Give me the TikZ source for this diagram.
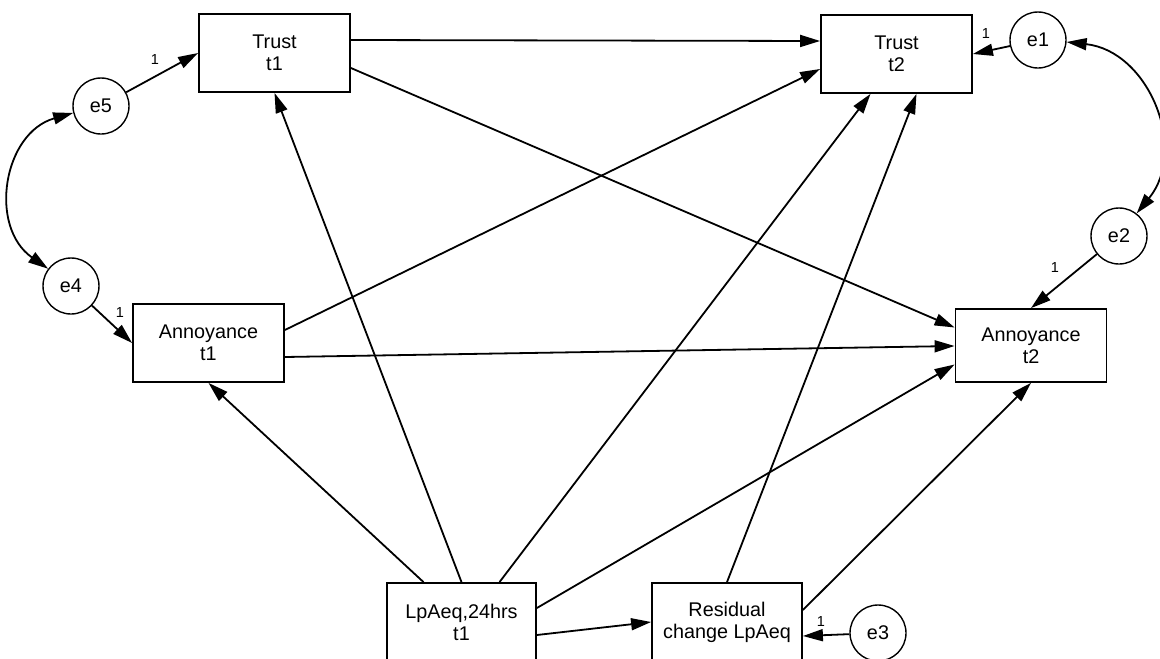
\documentclass[tikz,border=0pt]{standalone}
\usepackage{fontspec}
\setmainfont{Liberation Sans}
\usetikzlibrary{arrows.meta}
\begin{document}
\begin{tikzpicture}[x=1pt,y=-1pt,
  box/.style={draw, line width=1.8pt, rectangle, minimum width=151pt, minimum height=78pt, align=center, font=\fontsize{19.8}{22}\selectfont, inner sep=0pt},
  err/.style={draw, circle, line width=1.4pt, minimum size=56pt, inner sep=0pt, font=\fontsize{19.8}{22}\selectfont},
  arr/.style={line width=1.8pt, -{Triangle[length=20pt,width=12pt]}},
  dbl/.style={line width=1.8pt, {Triangle[length=20pt,width=12pt]}-{Triangle[length=20pt,width=12pt]}},
  one/.style={font=\fontsize{14.5}{16}\selectfont, inner sep=0pt}
]
\useasboundingbox (0,0) rectangle (1160,659);
\clip (0,0) rectangle (1160,659);
\node[box] (t1) at (274.5,53) {Trust\\t1};
\node[box] (t2) at (896.5,54) {Trust\\t2};
\node[box] (a1) at (208.5,343) {Annoyance\\t1};
\node[box, minimum height=73pt] (a2) at (1031,345.5) {Annoyance\\t2};
\node[box, minimum width=149pt] (lp) at (461.5,622) {LpAeq,24hrs\\t1};
\node[box, minimum width=150pt] (res) at (727,622) {Residual\\change LpAeq};
\node[err] (e1) at (1038,40) {e1};
\node[err] (e2) at (1119,236) {e2};
\node[err] (e3) at (878,633) {e3};
\node[err] (e4) at (71,286) {e4};
\node[err] (e5) at (101,106) {e5};
\draw[arr] (e5) -- (t1.west);
\draw[arr] (e4) -- (a1.west);
\draw[arr] (e1) -- (t2.east);
\draw[arr] (e2) -- (a2.north);
\draw[arr] (e3) -- ([yshift=-14pt]res.east);
\draw[arr] ([yshift=13pt]t1.east) -- ([yshift=13pt]t2.west);
\draw[arr] ([yshift=-15pt]t1.east) -- ([yshift=18pt]a2.west);
\draw[arr] ([yshift=13pt]a1.east) -- ([yshift=-15pt]t2.west);
\draw[arr] ([yshift=-14pt]a1.east) -- ([yshift=-0.5pt]a2.west);
\draw[arr] ([xshift=-38pt]lp.north) -- (a1.south);
\draw[arr] (lp.north) -- (t1.south);
\draw[arr] ([xshift=38pt]lp.north) -- ([xshift=-26pt]t2.south);
\draw[arr] ([yshift=14pt]lp.east) -- ([yshift=-19pt]a2.west);
\draw[arr] ([yshift=-13pt]lp.east) -- (res.west);
\draw[arr] (res.north) -- ([xshift=20pt]t2.south);
\draw[arr] ([yshift=12pt]res.east) -- (a2.south);
\draw[dbl] (e5.194) .. controls +(-70,20) and +(-60,-42) .. (e4.143);
\draw[dbl] (e1.356) .. controls +(82,9) and +(52,-64) .. (e2.52);
\node[one] (l5) at (155,60) {1};
\node[one] (l4) at (120,313) {1};
\node[one] (l1) at (986,34) {1};
\node[one] (l2) at (1055,268) {1};
\node[one] (l3) at (821,622) {1};
\end{tikzpicture}
\end{document}
